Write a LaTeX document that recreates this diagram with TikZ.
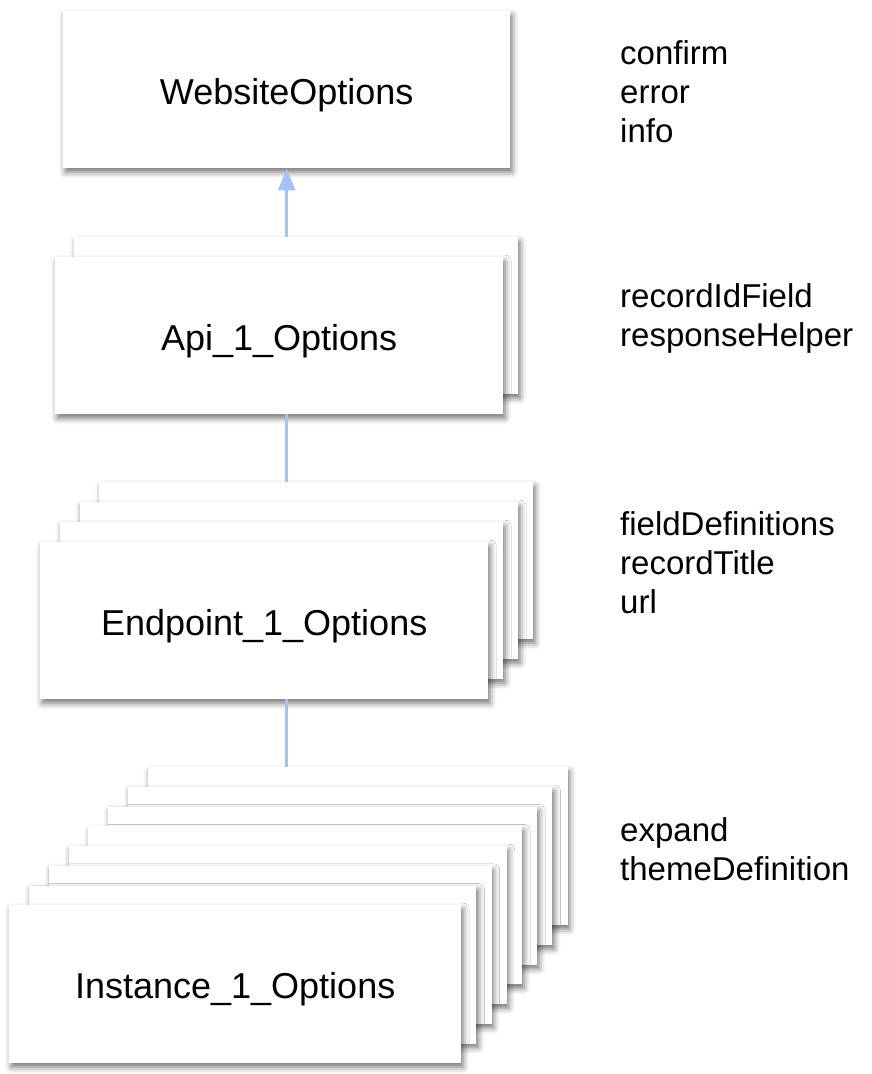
\documentclass[tikz,border=0pt]{standalone}
\usepackage{fontspec}
\setmainfont{Liberation Sans}
\usetikzlibrary{shadows.blur,arrows.meta}
\definecolor{linkblue}{HTML}{A4C2F4}
\begin{document}
\begin{tikzpicture}[x=1pt,y=-1pt,
  card/.style={rectangle, fill=white, draw=none, inner sep=0pt, anchor=north west,
    minimum height=157pt,
    blur shadow={shadow xshift=2pt, shadow yshift=-4pt, shadow blur radius=6pt, shadow opacity=55}},
  lbl/.style={font=\fontsize{36}{42}\selectfont, text height=29pt, text depth=0pt},
  note/.style={font=\fontsize{33}{39}\selectfont, align=left, anchor=west, inner sep=0pt},
  link/.style={draw=linkblue, line width=2.5pt}]
\useasboundingbox (0,0) rectangle (872,1074);

% WebsiteOptions
\node[card, lbl, minimum width=447pt] (web) at (63,11) {WebsiteOptions};

% Api stack
\node[card, minimum width=444pt] (api1) at (74,237) {};
\node[card, lbl, minimum width=448pt] (api0) at (55,257) {Api\_1\_Options};

% Endpoint stack
\foreach \i in {3,2,1} {
  \node[card, minimum width={448pt-4.7pt*\i}] (ep\i) at ({40+19.7*\i},{542-20*\i}) {};
}
\node[card, lbl, minimum width=448pt] (ep0) at (40,542) {Endpoint\_1\_Options};

% Instance stack
\foreach \i in {7,6,5,4,3,2,1} {
  \node[card, minimum width={452pt-4.6pt*\i}, minimum height=158pt] (in\i) at ({9+19.8*\i},{905-19.7*\i}) {};
}
\node[card, lbl, minimum width=452pt, minimum height=158pt] (in0) at (9,905) {Instance\_1\_Options};

% connectors
\draw[link, -{Triangle[length=22pt,width=17pt]}] (web.south |- api1.north) -- (web.south);
\draw[link] (web.south |- api0.south) -- (web.south |- ep3.north);
\draw[link] (web.south |- ep0.south) -- (web.south |- in7.north);

% notes
\node[note] (n1) at (620,92) {confirm\\error\\info};
\node[note] (n2) at (620,318) {recordIdField\\responseHelper};
\node[note] (n3) at (620,563) {fieldDefinitions\\recordTitle\\url};
\node[note] (n4) at (620,849) {expand\\themeDefinition};
\end{tikzpicture}
\end{document}
